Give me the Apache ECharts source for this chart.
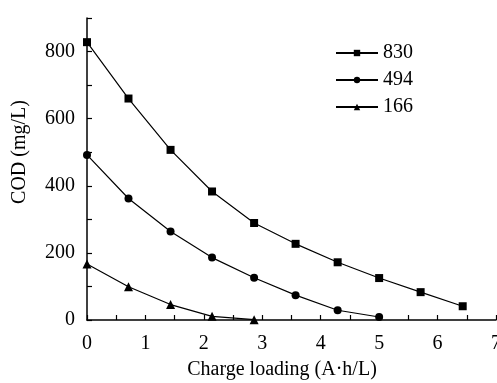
<!DOCTYPE html>
<html><head><meta charset="utf-8">
<script src="https://cdn.jsdelivr.net/npm/echarts@6/dist/echarts.min.js"></script>
<style>html,body{margin:0;padding:0;background:#fff}#c{width:497px;height:383px}</style>
</head><body><div id="c"></div>
<script>
const xValues = [0, 0.71, 1.43, 2.14, 2.86, 3.57, 4.29, 5.0, 5.71, 6.43];
const s830 = [828, 660, 507, 383, 289, 227, 172, 125, 83, 41];
const s494 = [492, 362, 264, 186, 126, 74, 29, 9];
const s166 = [167, 99, 46, 11, 1];
const seriesNames = ['830', '494', '166'];
const yTickLabels = [0, 200, 400, 600, 800];
const xTickLabels = [0, 1, 2, 3, 4, 5, 6, 7];

const font = 'Liberation Serif';
function pairs(vals){ return vals.map((v,i)=>[xValues[i], v]); }
const chart = echarts.init(document.getElementById('c'));
const mk = (name, data, symbol, size) => ({
  name, type:'line', data: pairs(data), symbol, symbolSize: size,
  lineStyle:{color:'#000', width:1.2}, itemStyle:{color:'#000'},
  emphasis:{disabled:true}, animation:false
});
chart.setOption({
  animation:false,
  grid:{left:87, right:1, top:18, bottom:63, containLabel:false, outerBoundsMode:'none'},
  legend:{
    orient:'vertical', right:79, top:38, itemWidth:42, itemHeight:8, itemGap:7,
    textStyle:{fontFamily:font, fontSize:20, color:'#000'},
    data: seriesNames
  },
  xAxis:{
    type:'value', min:0, max:7, interval:0.5,
    name:'Charge loading (A·h/L)', nameLocation:'middle', nameGap:40,
    nameTextStyle:{fontFamily:font, fontSize:20, color:'#000', padding:[0,19,0,0]},
    axisLine:{lineStyle:{color:'#000', width:1.5}},
    axisTick:{inside:true, length:5, lineStyle:{color:'#000', width:1.2}},
    axisLabel:{fontFamily:font, fontSize:20, color:'#000', margin:14,
      formatter:v => xTickLabels.includes(v) ? String(v) : ''},
    splitLine:{show:false}
  },
  yAxis:{
    type:'value', min:0, max:900, interval:100,
    name:'COD (mg/L)', nameLocation:'middle', nameGap:57, nameRotate:90,
    nameTextStyle:{fontFamily:font, fontSize:20, color:'#000', padding:[0,0,0,34]},
    axisLine:{show:true, lineStyle:{color:'#000', width:1.5}},
    axisTick:{show:true, inside:true, length:5, lineStyle:{color:'#000', width:1.2}},
    axisLabel:{fontFamily:font, fontSize:20, color:'#000', margin:12,
      formatter:v => yTickLabels.includes(v) ? String(v) : ''},
    splitLine:{show:false}
  },
  series:[
    mk('830', s830, 'rect', 8),
    mk('494', s494, 'circle', 8),
    mk('166', s166, 'triangle', 9)
  ]
});
</script></body></html>
